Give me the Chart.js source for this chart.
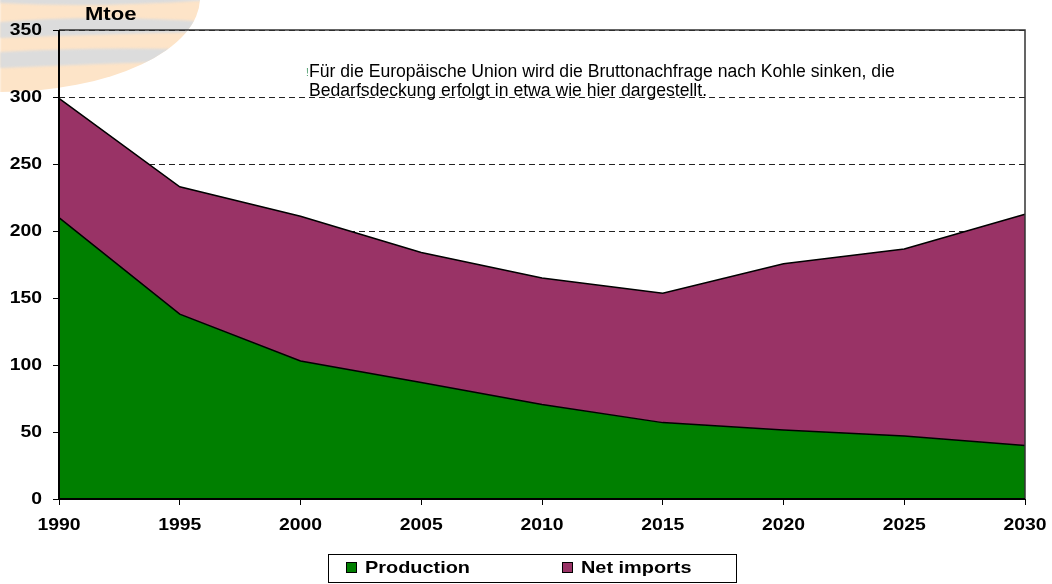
<!DOCTYPE html>
<html><head><meta charset="utf-8">
<script src="https://cdn.jsdelivr.net/npm/chart.js@4.4.1/dist/chart.umd.min.js"></script>
<style>html,body{margin:0;padding:0;background:#fff;overflow:hidden}#wrap{width:1052px;height:584px;position:relative}</style>
</head><body><div id="wrap"><canvas id="c" width="1052" height="584"></canvas></div>
<script>
// ---- data ----
const years = ['1990','1995','2000','2005','2010','2015','2020','2025','2030'];
const production = [210, 138, 103, 87, 70.5, 57, 51.5, 47, 40];
const netImports = [89, 95, 108, 97, 94.5, 96.5, 124, 139.5, 172.5];
const seriesNames = ['Production', 'Net imports'];
const seriesColors = ['#007f00', '#993366'];
const yMin = 0, yMax = 350, yStep = 50;
const unitLabel = 'Mtoe';
const noteLines = ['Für die Europäische Union wird die Bruttonachfrage nach Kohle sinken, die',
                   'Bedarfsdeckung erfolgt in etwa wie hier dargestellt.'];

const FONT = '"Liberation Sans", Arial, sans-serif';
const SX = 1.14;

function stretched(ctx, text, x, y, align, font, sx) {
  ctx.save();
  ctx.font = font;
  ctx.textAlign = align;
  ctx.textBaseline = 'middle';
  ctx.translate(x, y);
  ctx.scale(sx, 1);
  ctx.fillText(text, 0, 0);
  ctx.restore();
}

const watermark = {
  id: 'watermark',
  beforeDraw(chart) {
    const ctx = chart.ctx;
    ctx.save();
    ctx.filter = 'blur(1px)';
    ctx.beginPath();
    ctx.ellipse(0, -2, 200, 94, 0, 0, Math.PI * 2);
    ctx.clip();
    ctx.fillStyle = '#fde4c8';
    ctx.fillRect(0, 0, 210, 100);
    ctx.fillStyle = '#dcdcdc';
    const band = (y1a, y1b, y1c, y2a, y2b, y2c) => {
      ctx.beginPath();
      ctx.moveTo(0, y1a);
      ctx.quadraticCurveTo(100, y1b, 210, y1c);
      ctx.lineTo(210, y2c);
      ctx.quadraticCurveTo(100, y2b, 0, y2a);
      ctx.closePath();
      ctx.fill();
    };
    band(-8, -4, -6, 3, 8, 0);
    band(22, 14, 22, 38, 34, 32);
    band(52, 46, 50, 68, 64, 60);
    ctx.restore();
  }
};

const decor = {
  id: 'decor',
  afterDraw(chart) {
    const ctx = chart.ctx;
    const a = chart.chartArea;
    const xs = chart.scales.x, ys = chart.scales.y;
    ctx.save();
    // frame top/right
    ctx.strokeStyle = '#333';
    ctx.lineWidth = 1.5;
    ctx.beginPath();
    ctx.moveTo(a.left, a.top);
    ctx.lineTo(a.right, a.top);
    ctx.lineTo(a.right, a.bottom);
    ctx.stroke();
    // axis lines left/bottom
    ctx.strokeStyle = '#000';
    ctx.lineWidth = 2;
    ctx.beginPath();
    ctx.moveTo(a.left, a.top);
    ctx.lineTo(a.left, a.bottom);
    ctx.lineTo(a.right, a.bottom);
    ctx.stroke();
    ctx.fillStyle = '#000';
    const bold17 = 'bold 17px ' + FONT;
    // y tick labels
    ys.ticks.forEach(t => {
      stretched(ctx, String(t.value), a.left - 17, ys.getPixelForValue(t.value) + 0.5, 'right', bold17, SX);
    });
    // x tick labels
    chart.data.labels.forEach((lab, i) => {
      stretched(ctx, lab, xs.getPixelForValue(i), a.bottom + 26, 'center', bold17, SX);
    });
    // unit label
    stretched(ctx, unitLabel, 85, 15, 'left', 'bold 19px ' + FONT, 1.16);
    // note
    ctx.textAlign = 'left';
    ctx.textBaseline = 'middle';
    ctx.fillStyle = '#4a9a6a';
    ctx.font = '10px ' + FONT;
    ctx.fillText('!', 306, 73);
    ctx.font = '17.6px ' + FONT;
    ctx.fillStyle = '#000';
    ctx.fillText(noteLines[0], 309, 72);
    ctx.fillText(noteLines[1], 309, 91);
    // legend box
    ctx.fillStyle = '#fff';
    ctx.fillRect(328, 554, 408, 29);
    ctx.strokeStyle = '#000';
    ctx.lineWidth = 1;
    ctx.strokeRect(328.5, 554.5, 408, 28);
    const items = [{x: 346}, {x: 562}];
    items.forEach((it, i) => {
      ctx.fillStyle = seriesColors[i];
      ctx.fillRect(it.x, 562, 11, 11);
      ctx.strokeStyle = '#000';
      ctx.strokeRect(it.x + 0.5, 562.5, 10, 10);
      ctx.fillStyle = '#000';
      stretched(ctx, seriesNames[i], it.x + 19, 568, 'left', bold17, 1.17);
    });
    ctx.restore();
  }
};

const yTickValues = [];
for (let v = yMin; v <= yMax; v += yStep) yTickValues.push(v);

new Chart(document.getElementById('c'), {
  type: 'line',
  data: {
    labels: years,
    datasets: [
      {label: seriesNames[0], data: production, backgroundColor: seriesColors[0], borderColor: '#000', borderWidth: 1.5, fill: 'origin', pointRadius: 0, tension: 0},
      {label: seriesNames[1], data: netImports, backgroundColor: seriesColors[1], borderColor: '#000', borderWidth: 1.5, fill: '-1', pointRadius: 0, tension: 0}
    ]
  },
  options: {
    responsive: false,
    animation: false,
    devicePixelRatio: 1,
    layout: {padding: {top: 30, right: 27, left: 0, bottom: 0}},
    plugins: {legend: {display: false}, tooltip: {enabled: false}},
    scales: {
      x: {
        offset: false,
        grid: {drawOnChartArea: false, drawTicks: true, tickLength: 6, tickColor: '#000', tickWidth: 1},
        border: {display: false},
        ticks: {display: false, autoSkip: false, maxRotation: 0},
        afterFit(s) { s.height = 85; }
      },
      y: {
        stacked: true,
        min: yMin, max: yMax,
        afterBuildTicks(s) { s.ticks = yTickValues.map(v => ({value: v})); },
        grid: {color: '#222', lineWidth: 1, tickLength: 6, tickColor: '#000', tickWidth: 1, tickBorderDash: []},
        border: {display: false, dash: [6, 4]},
        ticks: {display: false},
        afterFit(s) { s.width = 59; }
      }
    }
  },
  plugins: [watermark, decor]
});
</script>
</body></html>
